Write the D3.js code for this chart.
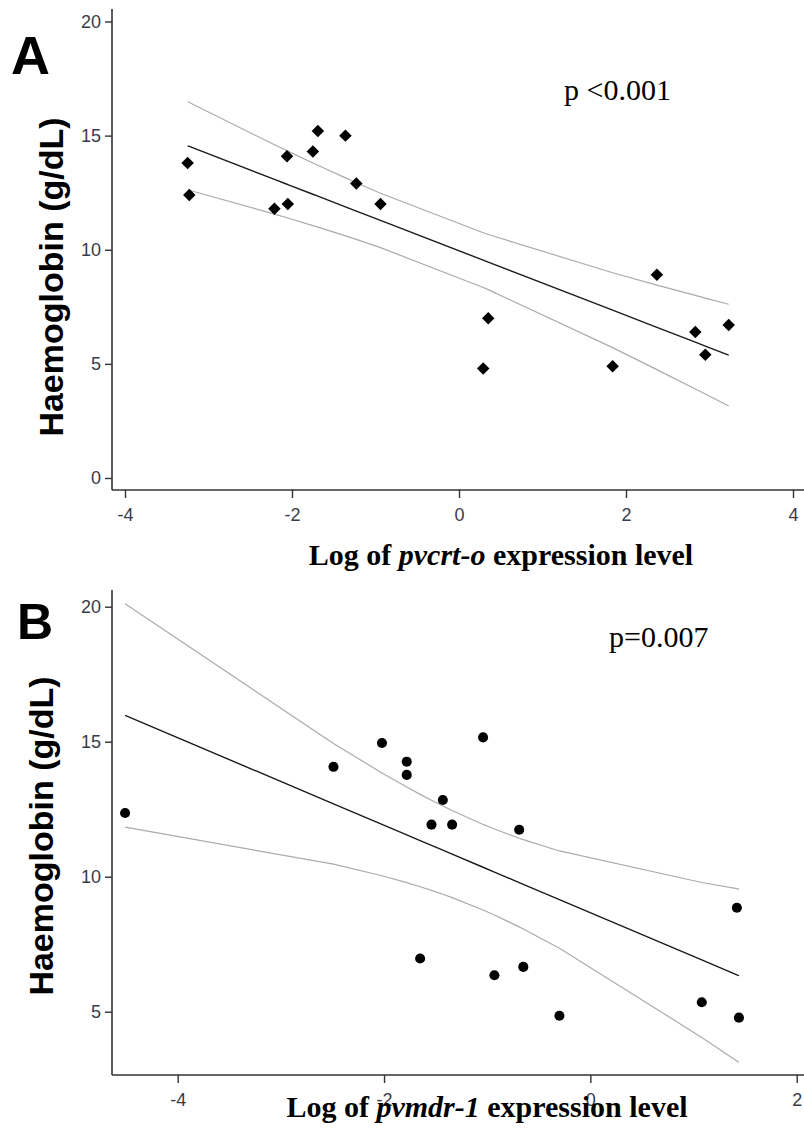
<!DOCTYPE html>
<html>
<head>
<meta charset="utf-8">
<script src="https://cdn.jsdelivr.net/npm/d3@7"></script>
<style>
  body { margin: 0; background: #fff; }
  .tick text { font-family: Arial, "Liberation Sans", sans-serif; font-size: 18px; fill: #3a3a48; }
  .tick line { stroke: #333; stroke-width: 1.4; }
</style>
</head>
<body>
<div id="chart"></div>
<script>
// panel A: pvcrt-o
var crtX = [-3.25, -3.23, -2.21, -2.05, -2.06, -1.75, -1.69, -1.36, -1.23, -0.94, 0.29, 0.35, 1.84, 2.37, 2.83, 2.95, 3.23];
var crtHb = [13.8, 12.4, 11.8, 12.0, 14.1, 14.3, 15.2, 15.0, 12.9, 12.0, 4.8, 7.0, 4.9, 8.9, 6.4, 5.4, 6.7];
var crtXTicks = [-4, -2, 0, 2, 4];
var crtYTicks = [0, 5, 10, 15, 20];

// panel B: pvmdr-1
var mdrX = [-4.51, -2.49, -2.02, -1.78, -1.78, -1.04, -1.43, -1.54, -1.34, -0.69, -1.65, -0.93, -0.65, -0.30, 1.42, 1.08, 1.44];
var mdrHb = [12.36, 14.07, 14.95, 14.26, 13.77, 15.16, 12.84, 11.93, 11.93, 11.74, 6.97, 6.35, 6.66, 4.85, 8.85, 5.35, 4.78];
var mdrXTicks = [-4, -2, 0, 2];
var mdrYTicks = [5, 10, 15, 20];

var T95 = 2.131; // t(0.975, df = 15)

var width = 804, height = 1144;

var svg = d3.select("#chart")
  .append("svg")
  .attr("width", width)
  .attr("height", height);

// least squares fit plus 95% confidence band for the mean
function fitLine(xs, ys) {
  var n = xs.length,
      mx = d3.mean(xs),
      my = d3.mean(ys),
      sxx = d3.sum(xs, d => (d - mx) * (d - mx)),
      sxy = d3.sum(xs, (d, i) => (d - mx) * (ys[i] - my)),
      b = sxy / sxx,
      a = my - b * mx,
      sse = d3.sum(xs, (d, i) => Math.pow(ys[i] - (a + b * d), 2)),
      s = Math.sqrt(sse / (n - 2));
  var sorted = Array.from(new Set(xs)).sort(d3.ascending);
  return sorted.map(x => {
    var fit = a + b * x,
        half = T95 * s * Math.sqrt(1 / n + (x - mx) * (x - mx) / sxx);
    return {x: x, fit: fit, lo: fit - half, hi: fit + half};
  });
}

function drawPanel(opt) {
  var g = svg.append("g");
  var x = opt.x, y = opt.y;

  // axes (plain hyphen for negatives, like the original)
  g.append("g")
    .attr("transform", `translate(0,${opt.axisY})`)
    .call(d3.axisBottom(x).tickValues(opt.xTicks).tickSize(8).tickPadding(10).tickFormat(d => String(d)))
    .call(a => a.select(".domain").remove());
  g.append("g")
    .attr("transform", `translate(${opt.axisX},0)`)
    .call(d3.axisLeft(y).tickValues(opt.yTicks).tickSize(7).tickPadding(4).tickFormat(d => String(d)))
    .call(a => a.select(".domain").remove());

  g.append("line")
    .attr("x1", opt.axisX).attr("x2", width)
    .attr("y1", opt.axisY).attr("y2", opt.axisY)
    .attr("stroke", "#333").attr("stroke-width", 1.6);
  g.append("line")
    .attr("x1", opt.axisX).attr("x2", opt.axisX)
    .attr("y1", opt.axisTop).attr("y2", opt.axisY)
    .attr("stroke", "#333").attr("stroke-width", 1.6);

  // regression and confidence band
  var band = fitLine(opt.xs, opt.ys);
  ["hi", "lo"].forEach(k => {
    g.append("path")
      .datum(band)
      .attr("fill", "none")
      .attr("stroke", "#ababab")
      .attr("stroke-width", 1.2)
      .attr("d", d3.line().x(d => x(d.x)).y(d => y(d[k])));
  });
  g.append("path")
    .datum(band)
    .attr("fill", "none")
    .attr("stroke", "#1a1a1a")
    .attr("stroke-width", 1.4)
    .attr("d", d3.line().x(d => x(d.x)).y(d => y(d.fit)));

  // points
  g.selectAll(".pt")
    .data(opt.xs)
    .enter().append("path")
    .attr("class", "pt")
    .attr("fill", "#000")
    .attr("d", d3.symbol().type(opt.symbol).size(opt.symSize))
    .attr("transform", (d, i) => `translate(${x(d)},${y(opt.ys[i])}) rotate(${opt.rot})`);

  // labels
  g.append("text")
    .attr("x", opt.letterX).attr("y", opt.letterY)
    .style("font-family", "Arial, 'Liberation Sans', sans-serif")
    .style("font-weight", "bold")
    .style("font-size", opt.letterSize + "px")
    .text(opt.letter);

  g.append("text")
    .attr("transform", `translate(${opt.yTitleX},${opt.yTitleY}) rotate(-90)`)
    .attr("text-anchor", "middle")
    .style("font-family", "Arial, 'Liberation Sans', sans-serif")
    .style("font-weight", "bold")
    .style("font-size", "34px")
    .text("Haemoglobin (g/dL)");

  var xt = g.append("text")
    .attr("x", opt.xTitleX).attr("y", opt.xTitleY)
    .attr("text-anchor", "middle")
    .style("font-family", "'Liberation Serif', 'Times New Roman', serif")
    .style("font-weight", "bold")
    .style("font-size", "30px");
  xt.append("tspan").text("Log of ");
  xt.append("tspan").style("font-style", "italic").text(opt.gene);
  xt.append("tspan").text(" expression level");

  g.append("text")
    .attr("x", opt.pX).attr("y", opt.pY)
    .style("font-family", "'Liberation Serif', 'Times New Roman', serif")
    .style("font-size", "30px")
    .text(opt.pText);
}

drawPanel({
  xs: crtX, ys: crtHb, xTicks: crtXTicks, yTicks: crtYTicks,
  x: d3.scaleLinear().domain([-4, 4]).range([125, 793]),
  y: d3.scaleLinear().domain([0, 20]).range([478, 21.5]),
  axisX: 112, axisY: 490, axisTop: 9,
  symbol: d3.symbolSquare, symSize: 78, rot: 45,
  letter: "A", letterX: 11, letterY: 74, letterSize: 54,
  yTitleX: 63, yTitleY: 277,
  xTitleX: 501, xTitleY: 565, gene: "pvcrt-o",
  pX: 564, pY: 100, pText: "p <0.001"
});

drawPanel({
  xs: mdrX, ys: mdrHb, xTicks: mdrXTicks, yTicks: mdrYTicks,
  x: d3.scaleLinear().domain([-4, 2]).range([177.7, 796.7]),
  y: d3.scaleLinear().domain([5, 20]).range([1011.7, 606.7]),
  axisX: 112, axisY: 1075, axisTop: 590,
  symbol: d3.symbolCircle, symSize: 80, rot: 0,
  letter: "B", letterX: 17, letterY: 639, letterSize: 50,
  yTitleX: 53, yTitleY: 836,
  xTitleX: 487, xTitleY: 1117, gene: "pvmdr-1",
  pX: 609, pY: 647, pText: "p=0.007"
});
</script>
</body>
</html>
